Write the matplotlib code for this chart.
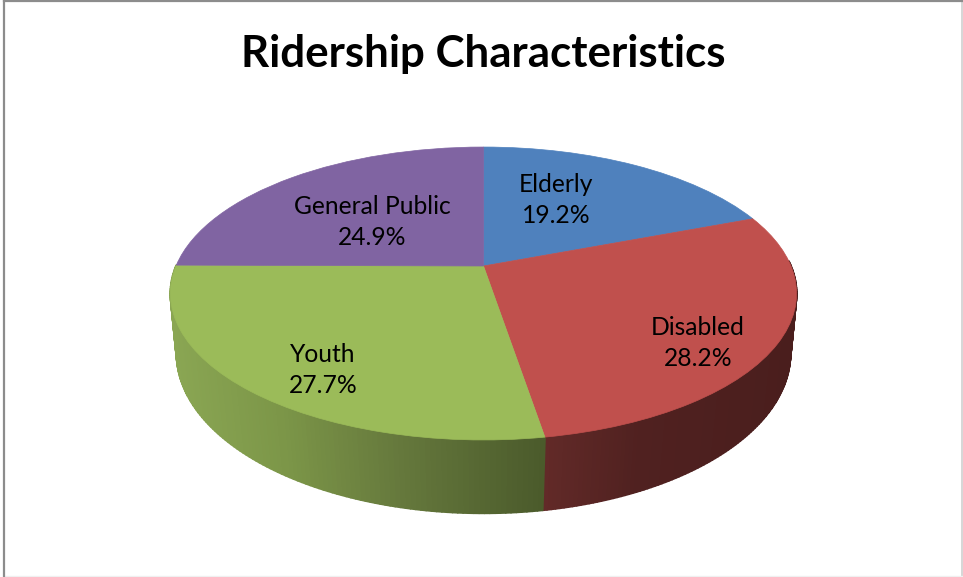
import numpy as np
import matplotlib
matplotlib.use("Agg")
import matplotlib.pyplot as plt
from matplotlib.transforms import Transform
from matplotlib.collections import PolyCollection
from matplotlib.colors import to_rgb

title = "Ridership Characteristics"
categories = ["Elderly", "Disabled", "Youth", "General Public"]
shares = [19.2, 28.2, 27.7, 24.9]
colors = ["#4f81bd", "#c0504d", "#9bbb59", "#8064a2"]
label_pos = [(556, 200), (698, 343), (323, 370), (372, 222)]

# wall shading stops: (pixel x, colour)
wall_stops = {
    "Disabled": [(545, "#622a28"), (640, "#502120"), (795, "#4a1e1d")],
    "Youth": [(170, "#8aa653"), (280, "#7c9648"), (400, "#65783c"), (545, "#4a5a2b")],
}


class Perspective(Transform):
    """Unit disk -> pixels, a tilted circle seen in perspective."""
    input_dims = output_dims = 2

    def __init__(self, cx, cy, a, b, k):
        super().__init__()
        self.p = (cx, cy, a, b, k)

    def transform_non_affine(self, xy):
        cx, cy, a, b, k = self.p
        xy = np.asarray(xy, float)
        w = 1 + k * xy[:, 1]
        return np.column_stack([cx + b * xy[:, 0] / w, cy - a * xy[:, 1] / w])


top = Perspective(483.5, 266, 141.3, 307.5, 0.1877)
bottom = Perspective(483.5, 326, 155.4, 302.5, 0.17)

fig = plt.figure(figsize=(9.63, 5.77), dpi=100, facecolor="white")
ax = fig.add_axes([0, 0, 1, 1])

wedges, _ = ax.pie(shares, colors=colors, startangle=90, counterclock=False,
                   radius=1, center=(0, 0), wedgeprops={"linewidth": 0.5})
ax.set_aspect("auto")
ax.set_xlim(0, 963)
ax.set_ylim(577, 0)
ax.axis("off")
for w, c in zip(wedges, colors):
    w.set_transform(top + ax.transData)
    w.set_edgecolor(c)
    w.set_zorder(3)

# side wall, strip by strip along the front of the rim
edges = np.concatenate([[0], np.cumsum(shares)]) / sum(shares) * 360
for i, cat in enumerate(categories):
    if cat not in wall_stops:
        continue
    start, end = edges[i], edges[i + 1]
    start = max(start, 88)
    end = min(end, 272)
    th = np.radians(np.linspace(start, end, 120))
    disk = np.column_stack([np.sin(th), np.cos(th)])
    T = top.transform(disk)
    B = bottom.transform(disk)
    stops = wall_stops[cat]
    xs = [s[0] for s in stops]
    rgb = np.array([to_rgb(s[1]) for s in stops])
    polys, cols = [], []
    for j in range(len(th) - 1):
        polys.append([T[j], T[j + 1], B[j + 1], B[j]])
        xm = (T[j, 0] + T[j + 1, 0]) / 2
        cols.append([np.interp(xm, xs, rgb[:, c]) for c in range(3)])
    ax.add_collection(PolyCollection(polys, facecolors=cols, edgecolors=cols,
                                     linewidths=1.4, zorder=2))

for cat, v, (x, y) in zip(categories, shares, label_pos):
    ax.text(x, y, f"{cat}\n{v}%", ha="center", va="center", fontsize=17.7,
            family="Lato", color="black", zorder=5, linespacing=1.42)

ax.text(483, 54.5, title, ha="center", va="center", fontsize=31.6,
        family="Lato", fontweight="bold", color="black", zorder=5)

# chart frame
ax.plot([3.5, 3.5], [1, 577], color="#8c8c8c", lw=1.6, zorder=1)
ax.plot([3.5, 962], [1, 1], color="#8c8c8c", lw=1.6, zorder=1)
ax.plot([962, 962], [1, 577], color="#d0d0d0", lw=1.2, zorder=0.9)
ax.plot([3.5, 962], [576, 576], color="#f0f0f0", lw=1.0, zorder=0.9)

fig.savefig("out.png", dpi=100, facecolor="white")
